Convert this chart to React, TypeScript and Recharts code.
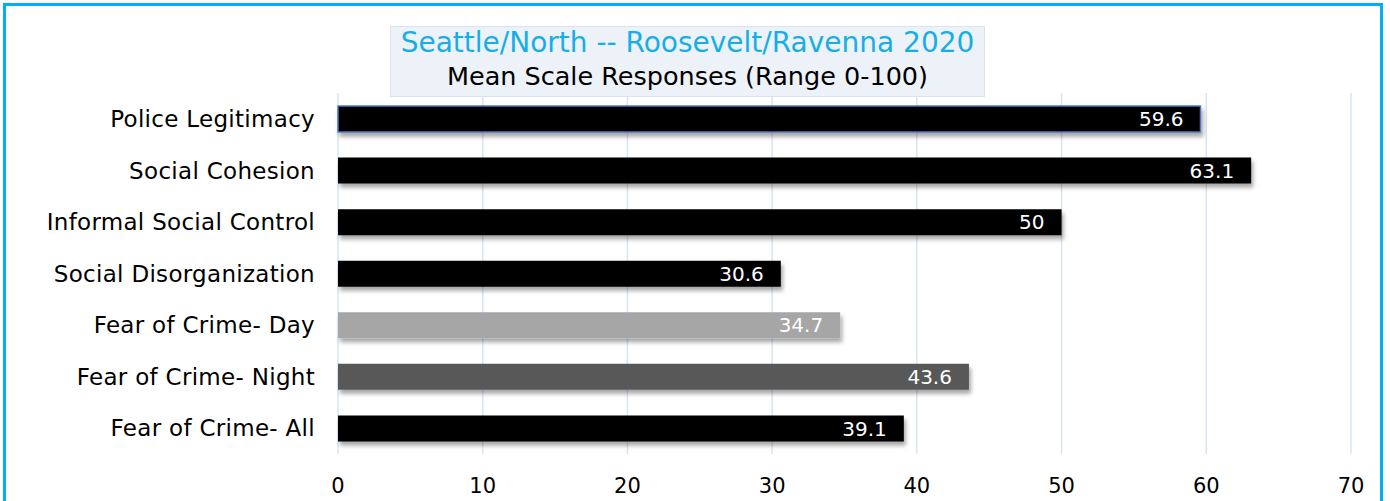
import { BarChart, Bar, XAxis, YAxis, CartesianGrid, Cell, LabelList } from "recharts";

const categories = [
  "Police Legitimacy",
  "Social Cohesion",
  "Informal Social Control",
  "Social Disorganization",
  "Fear of Crime- Day",
  "Fear of Crime- Night",
  "Fear of Crime- All",
];

const scores = [59.6, 63.1, 50, 30.6, 34.7, 43.6, 39.1];

const barColors = ["#000000", "#000000", "#000000", "#000000", "#a6a6a6", "#595959", "#000000"];

const xTicks = [0, 10, 20, 30, 40, 50, 60, 70];

const titleLine = "Seattle/North -- Roosevelt/Ravenna 2020";
const subtitleLine = "Mean Scale Responses (Range 0-100)";

const data = categories.map((name, i) => ({ name, score: scores[i] }));

const font = "'DejaVu Sans', sans-serif";

export default function App() {
  return (
    <div
      style={{
        position: "absolute",
        left: 0,
        top: 0,
        width: 1390,
        height: 501,
        overflow: "hidden",
        background: "#ffffff",
        fontFamily: font,
      }}
    >
      {/* outer frame, bottom edge runs off the picture */}
      <div
        style={{
          position: "absolute",
          left: 3,
          top: 3,
          width: 1374,
          height: 540,
          border: "3px solid #00b0f0",
        }}
      />

      <BarChart
        width={1390}
        height={501}
        data={data}
        layout="vertical"
        margin={{ top: 93, right: 39, bottom: 7, left: 0 }}
        barCategoryGap={0}
      >
        <defs>
          <filter id="barShadow" x="-5%" y="-30%" width="110%" height="180%">
            <feDropShadow dx="2" dy="4" stdDeviation="2" floodColor="#000" floodOpacity="0.35" />
          </filter>
        </defs>

        <CartesianGrid horizontal={false} stroke="#d9e4f3" strokeWidth={1.5} />

        <XAxis
          type="number"
          domain={[0, 70]}
          ticks={xTicks}
          axisLine={false}
          tickLine={false}
          tickSize={0}
          tickMargin={24}
          height={40}
          tick={{ fontSize: 21, fill: "#000", fontFamily: font }}
        />

        <YAxis
          type="category"
          dataKey="name"
          width={338}
          axisLine={false}
          tickLine={false}
          tickSize={0}
          tickMargin={23}
          tick={{ fontSize: 23, fill: "#000", fontFamily: font, letterSpacing: 0.3 }}
        />

        <Bar dataKey="score" barSize={26} isAnimationActive={false} filter="url(#barShadow)">
          {data.map((d, i) => (
            <Cell
              key={d.name}
              fill={barColors[i]}
              stroke={i === 0 ? "#4f78c4" : "none"}
              strokeWidth={i === 0 ? 1.5 : 0}
            />
          ))}
          <LabelList
            dataKey="score"
            position="insideRight"
            offset={17}
            fill="#ffffff"
            fontSize={20}
            fontFamily={font}
          />
        </Bar>
      </BarChart>

      <div
        style={{
          position: "absolute",
          left: 390,
          top: 26,
          width: 595,
          height: 71,
          background: "#edf2f9",
          border: "1px solid #d9e3f1",
          boxSizing: "border-box",
          textAlign: "center",
        }}
      >
        <div style={{ fontSize: 28, color: "#17aee8", lineHeight: "34px", marginTop: -1 }}>{titleLine}</div>
        <div style={{ fontSize: 25.5, color: "#000", lineHeight: "32px" }}>{subtitleLine}</div>
      </div>
    </div>
  );
}
